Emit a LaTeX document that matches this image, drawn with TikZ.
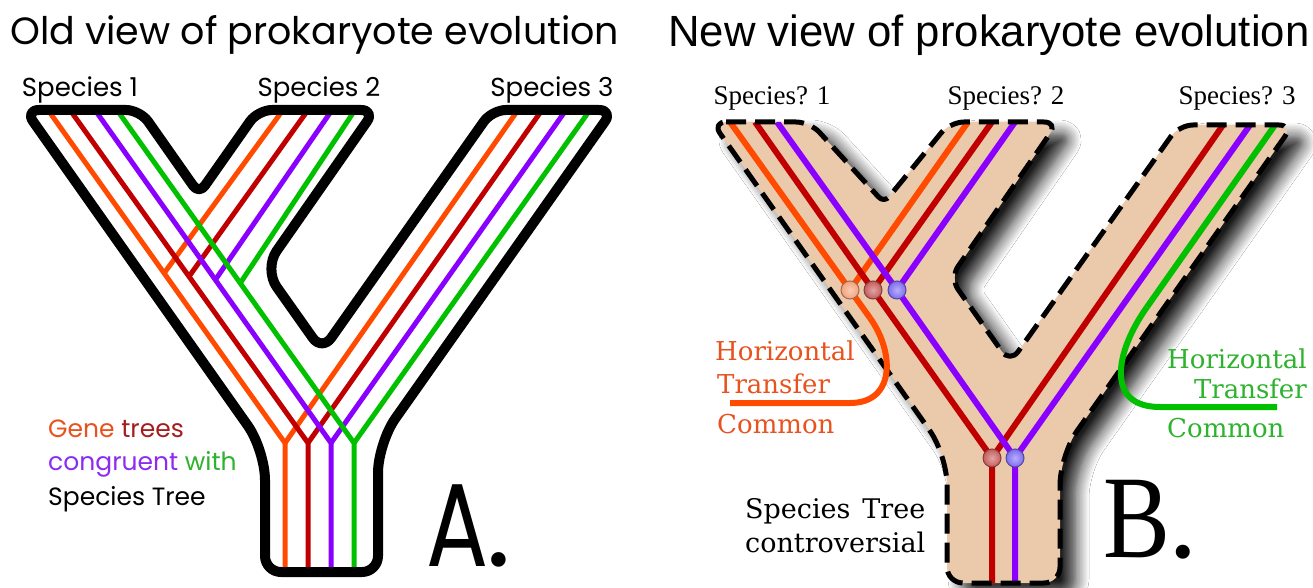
\documentclass[tikz,border=0pt]{standalone}
\usepackage{fontspec}
\setmainfont{Liberation Serif}
\newfontfamily\popp{Poppins}
\newfontfamily\lsans{Liberation Sans}
\newfontfamily\lserif{Liberation Serif}
\newfontfamily\djs{DejaVu Serif}
\usetikzlibrary{calc,shadows.blur}
\definecolor{gor}{HTML}{FF4A00}
\definecolor{gdr}{HTML}{C00000}
\definecolor{gpu}{HTML}{8A00FF}
\definecolor{ggr}{HTML}{00C000}
\definecolor{tanfill}{HTML}{EBC9AB}
\definecolor{tor}{HTML}{E8521F}
\definecolor{tdr}{HTML}{A51E1E}
\definecolor{tpu}{HTML}{8C2CF0}
\definecolor{tgr}{HTML}{2DB32D}
\definecolor{bor}{HTML}{F4A27C}
\definecolor{bdr}{HTML}{C65C5C}
\definecolor{bpu}{HTML}{7E6CF2}
\begin{document}
\begin{tikzpicture}[x=1pt,y=-1pt,
  genea/.style={line width=5pt},
  geneb/.style={line width=6pt},
  outlinea/.style={line width=10pt, line join=round},
  outlineb/.style={line width=5pt, dash pattern=on 20pt off 9pt, line join=round},
  lbl/.style={inner sep=0pt},
  ballsty/.style={circle, inner sep=0pt, minimum size=18pt, draw=#1!65!black, line width=1pt,
    shading=radial, inner color=#1!55!white, outer color=#1},
]
\fill[white] (0,0) rectangle (1313,588);
\useasboundingbox (0,0) rectangle (1313,588);

%% ---------------- Panel A ----------------
\coordinate (a1o) at (48,110);  \coordinate (a1r) at (70,110);
\coordinate (a1p) at (95,110);  \coordinate (a1g) at (117,110);
\coordinate (a2o) at (283,110); \coordinate (a2r) at (308,110);
\coordinate (a2p) at (332,110); \coordinate (a2g) at (355,110);
\coordinate (a3o) at (518,110); \coordinate (a3r) at (542,110);
\coordinate (a3p) at (566,110); \coordinate (a3g) at (590,110);
\coordinate (tjo) at (285,443); \coordinate (tjr) at (308,443);
\coordinate (tjp) at (331,443); \coordinate (tjg) at (354,443);
\coordinate (ebo) at (285,572); \coordinate (ebr) at (308,572);
\coordinate (ebp) at (331,572); \coordinate (ebg) at (354,572);

% species 3 branches
\draw[genea,gor] (a3o) -- (tjo);
\draw[genea,gdr] (a3r) -- (tjr);
\draw[genea,gpu] (a3p) -- (tjp);
\draw[genea,ggr] (a3g) -- (tjg);
% species 2 branches
\draw[genea,gor] (a2o) -- ($(a1o)!0.49!(tjo)$);
\draw[genea,gdr] (a2r) -- ($(a1r)!0.5!(tjr)$);
\draw[genea,gpu] (a2p) -- ($(a1p)!0.51!(tjp)$);
\draw[genea,ggr] (a2g) -- ($(a1g)!0.52!(tjg)$);
% species 1 branches and trunk
\draw[genea,gor,line join=round] (a1o) -- (tjo) -- (ebo);
\draw[genea,gdr,line join=round] (a1r) -- (tjr) -- (ebr);
\draw[genea,gpu,line join=round] (a1p) -- (tjp) -- (ebp);
\draw[genea,ggr,line join=round] (a1g) -- (tjg) -- (ebg);

% outline A
\draw[outlinea] [rounded corners=14pt] (25,110) -- (140,110) [rounded corners=10pt] -- (199,194)
  [rounded corners=14pt] -- (258,110) -- (375,110)
  [rounded corners=22pt] -- (264,269) [rounded corners=16pt] -- (322,351) [rounded corners=14pt] -- (492,110) -- (613,110)
  [rounded corners=30pt] -- (378,443) [rounded corners=16pt] -- (378,572) -- (265,572)
  [rounded corners=30pt] -- (265,450) [rounded corners=14pt] -- cycle;

% texts A
\node[lbl, anchor=base west, font=\popp\fontsize{38}{44}\selectfont] (titA) at (10,45) {Old view of prokaryote evolution};
\node[lbl, anchor=base, font=\popp\fontsize{26}{30}\selectfont] (sa1) at (80,97) {Species 1};
\node[lbl, anchor=base, font=\popp\fontsize{26}{30}\selectfont] (sa2) at (319,97) {Species 2};
\node[lbl, anchor=base, font=\popp\fontsize{26}{30}\selectfont] (sa3) at (552,97) {Species 3};
\node[lbl, anchor=base west, font=\popp\fontsize{25}{28}\selectfont] (gene) at (48,437) {\textcolor{tor}{Gene} \textcolor{tdr}{trees}};
\node[lbl, anchor=base west, font=\popp\fontsize{25}{28}\selectfont] (cong) at (48,470) {\textcolor{tpu}{congruent} \textcolor{tgr}{with}};
\node[lbl, anchor=base west, font=\popp\fontsize{25}{28}\selectfont] (sptA) at (48,505) {Species Tree};
\node[lbl, anchor=base west, font=\popp\fontsize{118}{120}\selectfont] (labA) at (426,566) {\scalebox{0.78}[1]{A}\kern-2pt.};

%% ---------------- Panel B ----------------
\def\Bpath{[rounded corners=14pt] (712,122) -- (810,122) [rounded corners=8pt] -- (884,203) [rounded corners=14pt] -- (950,122) -- (1058,122)
  -- (950,278) -- (1010,363) -- (1179,125) -- (1293,125)
  [rounded corners=30pt] -- (1060,455) [rounded corners=16pt] -- (1060,583) -- (947,583)
  [rounded corners=30pt] -- (947,455) [rounded corners=14pt] -- cycle}
\path[fill=tanfill,
  blur shadow={shadow xshift=15pt, shadow yshift=-12pt, shadow blur radius=14pt, shadow opacity=90, shadow blur steps=10}] \Bpath;

\coordinate (b1o) at (730,122); \coordinate (b1r) at (755,122); \coordinate (b1p) at (777,122);
\coordinate (b2o) at (968,122); \coordinate (b2r) at (992,122); \coordinate (b2p) at (1015,122);
\coordinate (b3r) at (1223,125); \coordinate (b3p) at (1250,125); \coordinate (b3g) at (1275,125);
\coordinate (jo) at (850,290); \coordinate (jr) at (873,290); \coordinate (jp) at (897,290);
\coordinate (kr) at (992,458); \coordinate (kp) at (1015,458);
\coordinate (fr) at (992,590); \coordinate (fp) at (1015,590);
\coordinate (go) at (870,318); \coordinate (gg) at (1147,307);

\begin{scope}
\clip \Bpath;
\draw[geneb,gdr] (b3r) -- (kr);
\draw[geneb,gpu] (b3p) -- (kp);
\draw[geneb,ggr] (b3g) -- (gg);
\draw[geneb,gor] (b2o) -- (jo);
\draw[geneb,gdr] (b2r) -- (jr);
\draw[geneb,gpu] (b2p) -- (jp);
\draw[geneb,gor] (b1o) -- (jo) -- (go);
\draw[geneb,gdr,line join=round] (b1r) -- (jr) -- (kr) -- (fr);
\draw[geneb,gpu,line join=round] (b1p) -- (jp) -- (kp) -- (fp);
\end{scope}

\draw[outlineb] \Bpath;

% horizontal transfer curves
\draw[geneb,gor] (go) .. controls (895,353) and (895,403) .. (850,403) -- (730,403);
\draw[geneb,ggr] (gg) .. controls (1115,352) and (1105,407) .. (1160,407) -- (1277,407);

% junction balls
\node[ballsty=bor] (bjo) at (jo) {};
\node[ballsty=bdr] (bjr) at (jr) {};
\node[ballsty=bpu] (bjp) at (jp) {};
\node[ballsty=bdr] (bkr) at (kr) {};
\node[ballsty=bpu] (bkp) at (kp) {};

% texts B
\node[lbl, anchor=base west, font=\lsans\fontsize{43.7}{50}\selectfont] (titB) at (668,47) {New view of prokaryote evolution};
\node[lbl, anchor=base, font=\lserif\fontsize{27}{32}\selectfont] (sb1) at (772,105) {Species? 1};
\node[lbl, anchor=base, font=\lserif\fontsize{27}{32}\selectfont] (sb2) at (1006,105) {Species? 2};
\node[lbl, anchor=base, font=\lserif\fontsize{27}{32}\selectfont] (sb3) at (1237,105) {Species? 3};
\node[lbl, anchor=base west, text=tor, font=\djs\fontsize{26}{30}\selectfont] (ho1) at (715,360) {Horizontal};
\node[lbl, anchor=base west, text=tor, font=\djs\fontsize{26}{30}\selectfont] (tr1) at (717,393) {Transfer};
\node[lbl, anchor=base west, text=tor, font=\djs\fontsize{26}{30}\selectfont] (co1) at (717,433) {Common};
\node[lbl, anchor=base west, text=tgr, font=\djs\fontsize{26}{30}\selectfont] (ho2) at (1167,368) {Horizontal};
\node[lbl, anchor=base east, text=tgr, font=\djs\fontsize{26}{30}\selectfont] (tr2) at (1307,398) {Transfer};
\node[lbl, anchor=base west, text=tgr, font=\djs\fontsize{26}{30}\selectfont] (co2) at (1167,437) {Common};
\node[lbl, anchor=base west, font=\djs\fontsize{27}{30}\selectfont] (ctrl) at (745,552) {controversial};
\node[lbl, anchor=base west, font=\djs\fontsize{27}{30}\selectfont] (spB) at (745,518) {Species};
\path (ctrl.base east) ++(0,-34) node[lbl, anchor=base east, font=\djs\fontsize{27}{30}\selectfont] (treeB) {Tree};
\node[lbl, anchor=base west, font=\lserif\fontsize{118}{120}\selectfont] (labB) at (1103,557) {\scalebox{0.85}[1]{B}\kern-2pt.};
\end{tikzpicture}
\end{document}
